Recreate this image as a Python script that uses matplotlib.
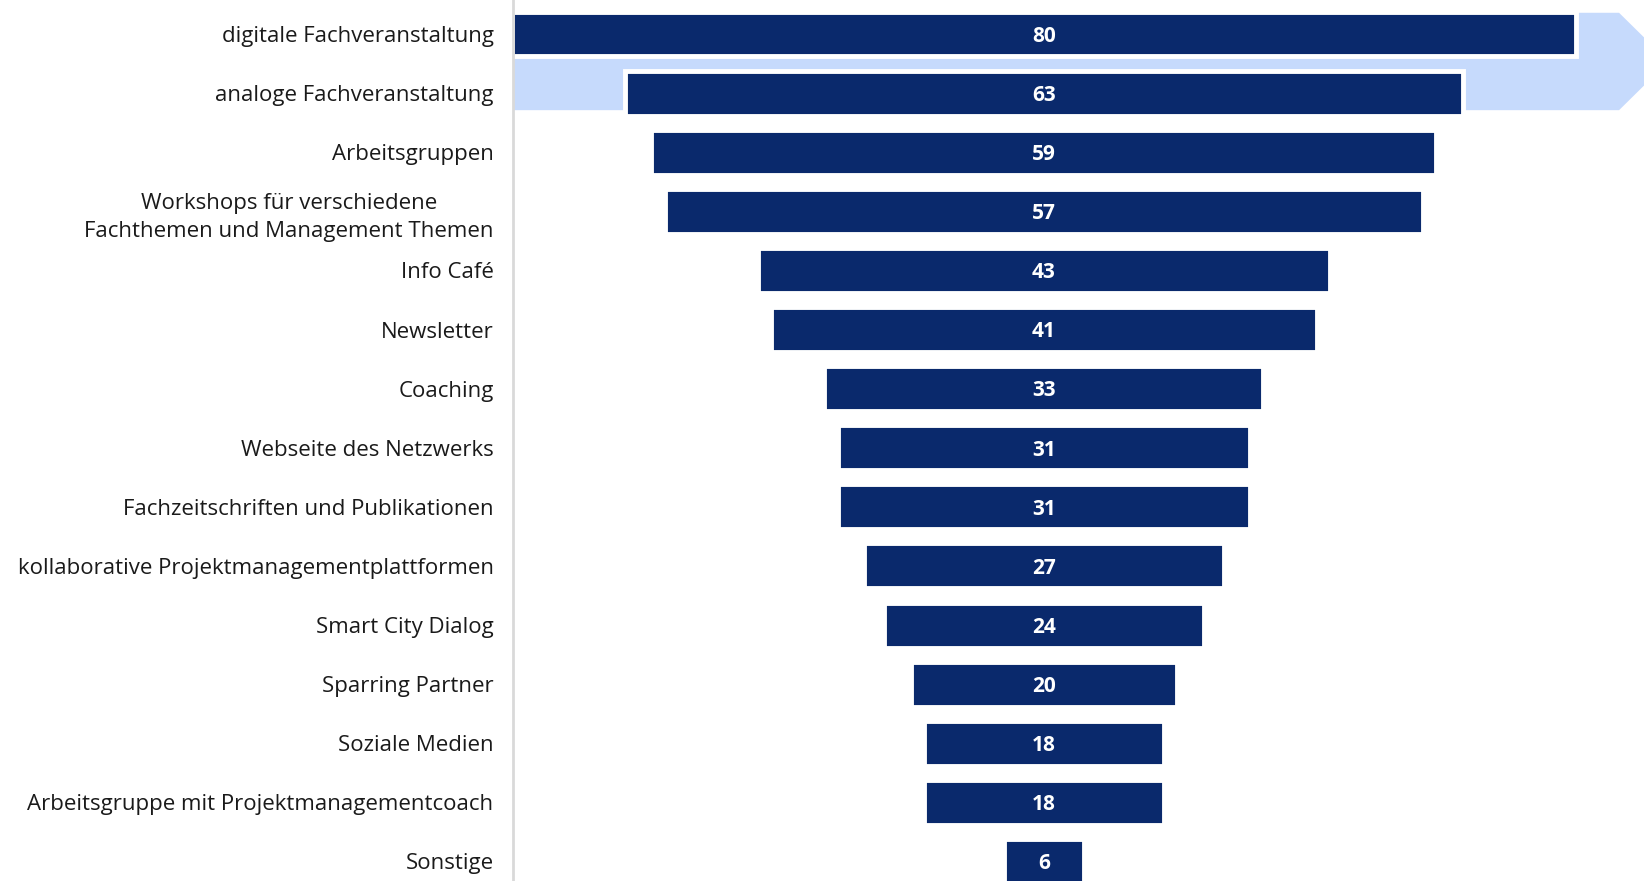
import matplotlib.pyplot as plt
from matplotlib.patches import Polygon

categories = [
    'digitale Fachveranstaltung',
    'analoge Fachveranstaltung',
    'Arbeitsgruppen',
    'Workshops für verschiedene\nFachthemen und Management Themen',
    'Info Café',
    'Newsletter',
    'Coaching',
    'Webseite des Netzwerks',
    'Fachzeitschriften und Publikationen',
    'kollaborative Projektmanagementplattformen',
    'Smart City Dialog',
    'Sparring Partner',
    'Soziale Medien',
    'Arbeitsgruppe mit Projektmanagementcoach',
    'Sonstige',
]
values = [80, 63, 59, 57, 43, 41, 33, 31, 31, 27, 24, 20, 18, 18, 6]

dark = '#0a296c'
light = '#c6dafc'

plt.rcParams['font.family'] = ['Open Sans', 'DejaVu Sans']

fig = plt.figure(figsize=(16.44, 8.81), dpi=100)
ax = fig.add_axes([513 / 1644, 0, 1 - 513 / 1644, 1])

rows = list(range(len(values)))

# funnel: bars centered on zero
lefts = [-v / 2 for v in values]
ax.barh(rows, values, left=lefts, height=0.76, color=dark,
        edgecolor='white', linewidth=3.5, zorder=2)

# light highlight arrow behind the two top bars
x0 = -values[0] / 2
x1 = values[0] / 2 + 3.3
top, bottom = rows[0] - 0.40, rows[1] + 0.33
tip = x1 + 3.9
arrow = Polygon([(x0, top), (x1, top), (tip, (top + bottom) / 2),
                 (x1, bottom), (x0, bottom)], closed=True,
                facecolor=light, edgecolor='white', linewidth=3.5, zorder=1)
ax.add_patch(arrow)

for r, v in zip(rows, values):
    ax.text(0, r + 0.04, str(v), ha='center', va='center', color='white',
            fontsize=15, fontweight='bold', zorder=3)

ax.set_xlim(-39.9, 45.1)
ax.set_ylim(14.33, -0.575)

ax.set_yticks(rows)
ax.set_yticklabels(categories, fontsize=16, color='#1a1a1a')
for lbl in ax.get_yticklabels():
    lbl.set_multialignment('center')
    lbl.set_linespacing(1.45)
ax.tick_params(axis='y', length=0, pad=14)
ax.set_xticks([])

for s in ['top', 'right', 'bottom']:
    ax.spines[s].set_visible(False)
ax.spines['left'].set_color('#d9d9d9')
ax.spines['left'].set_linewidth(2)

fig.savefig('out.png', dpi=100)
